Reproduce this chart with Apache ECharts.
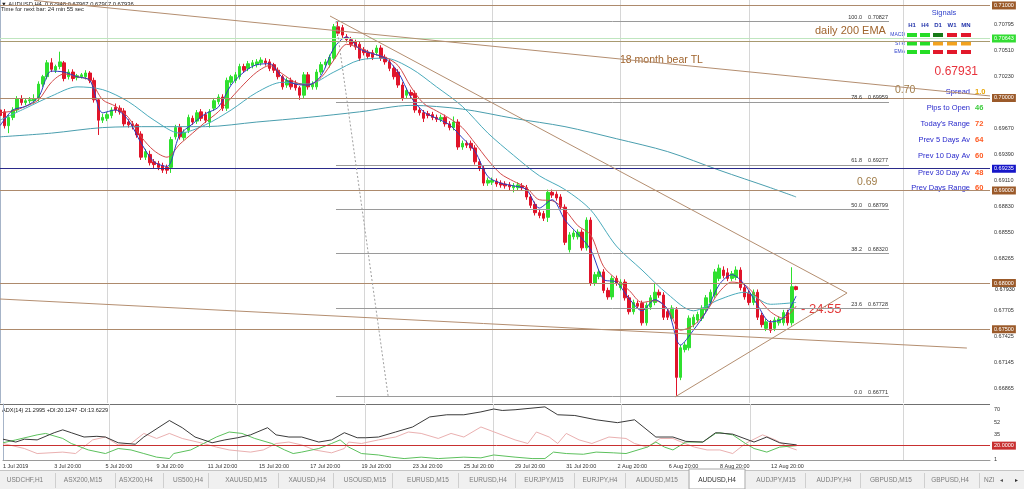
<!DOCTYPE html>
<html><head><meta charset="utf-8">
<script src="https://cdn.jsdelivr.net/npm/echarts@6/dist/echarts.min.js"></script>
<style>html,body{margin:0;padding:0;background:#fff;overflow:hidden}#c{width:1024px;height:489px}</style>
</head><body><div id="c"></div>
<script>
// ---------- DATA ----------
// AUDUSD H4 candles, one per bar starting 1 Jul 2019 20:00 : [open, close, low, high]
const candles = [
[.6987,.6981,.6978,.6990],[.6985,.6970,.6967,.6988],[.6970,.6979,.6962,.6982],[.6979,.6987,.6976,.6990],[.6987,.6999,.6984,.7002],
[.6999,.6995,.6992,.7003],[.6995,.6997,.6992,.6999],[.6997,.6998,.6994,.7001],[.6997,.6999,.6994,.7004],[.6999,.7015,.6996,.7018],
[.7015,.7023,.7012,.7025],[.7023,.7038,.7020,.7041],[.7038,.7031,.7028,.7043],[.7030,.7034,.7027,.7036],[.7034,.7039,.7031,.7050],
[.7038,.7021,.7018,.7040],[.7023,.7028,.7020,.7031],[.7028,.7021,.7018,.7031],[.7022,.7024,.7019,.7026],[.7023,.7025,.7021,.7027],
[.7023,.7027,.7020,.7030],[.7027,.7019,.7016,.7029],[.7019,.6998,.6995,.7022],[.6998,.6976,.6960,.7000],[.6976,.6979,.6973,.6983],
[.6978,.6982,.6975,.6985],[.6981,.6987,.6978,.6990],[.6990,.6987,.6984,.6994],[.6989,.6985,.6982,.6992],[.6986,.6972,.6969,.6989],
[.6974,.6971,.6968,.6977],[.6972,.6970,.6966,.6975],[.6971,.6960,.6957,.6973],[.6961,.6936,.6933,.6964],[.6936,.6942,.6933,.6945],
[.6939,.6930,.6927,.6943],[.6931,.6928,.6924,.6934],[.6929,.6925,.6922,.6932],[.6927,.6922,.6919,.6930],[.6925,.6922,.6918,.6928],
[.6925,.6955,.6919,.6958],[.6958,.6968,.6955,.6971],[.6968,.6958,.6955,.6972],[.6957,.6963,.6954,.6966],[.6965,.6979,.6962,.6982],
[.6978,.6974,.6971,.6981],[.6975,.6984,.6972,.6987],[.6985,.6978,.6975,.6988],[.6982,.6976,.6973,.6985],[.6974,.6985,.6968,.6988],
[.6989,.6997,.6986,.7000],[.6996,.7001,.6993,.7004],[.7001,.6989,.6986,.7004],[.6989,.7019,.6986,.7022],[.7017,.7023,.7014,.7025],
[.7019,.7025,.7016,.7028],[.7023,.7034,.7020,.7037],[.7034,.7030,.7027,.7037],[.7032,.7037,.7029,.7040],[.7035,.7038,.7032,.7041],
[.7036,.7039,.7033,.7042],[.7038,.7041,.7035,.7044],[.7040,.7038,.7035,.7043],[.7039,.7032,.7029,.7042],[.7036,.7030,.7027,.7038],
[.7030,.7023,.7020,.7033],[.7023,.7012,.7009,.7025],[.7014,.7019,.7011,.7022],[.7019,.7012,.7009,.7022],[.7016,.7011,.7008,.7019],
[.7011,.7003,.6998,.7013],[.7003,.7025,.7000,.7028],[.7025,.7012,.7009,.7028],[.7012,.7015,.7009,.7018],[.7012,.7028,.7009,.7031],
[.7028,.7036,.7025,.7039],[.7036,.7039,.7033,.7042],[.7036,.7044,.7033,.7047],[.7043,.7077,.7040,.7080],[.7077,.7070,.7067,.7083],
[.7076,.7068,.7065,.7079],[.7066,.7063,.7060,.7069],[.7063,.7058,.7055,.7066],[.7061,.7055,.7052,.7063],[.7058,.7043,.7040,.7061],
[.7052,.7049,.7046,.7055],[.7049,.7045,.7042,.7052],[.7049,.7044,.7041,.7052],[.7049,.7054,.7046,.7057],[.7054,.7043,.7040,.7057],
[.7044,.7039,.7036,.7047],[.7039,.7032,.7029,.7042],[.7032,.7023,.7020,.7035],[.7028,.7014,.7011,.7031],[.7014,.7000,.6997,.7017],
[.7003,.7008,.7000,.7011],[.7006,.7003,.7000,.7009],[.7005,.6987,.6984,.7008],[.6987,.6984,.6981,.6990],[.6984,.6978,.6974,.6987],
[.6983,.6981,.6978,.6986],[.6982,.6979,.6976,.6985],[.6979,.6977,.6974,.6982],[.6977,.6979,.6974,.6982],[.6979,.6972,.6969,.6982],
[.6972,.6968,.6965,.6975],[.6968,.6974,.6965,.6980],[.6974,.6947,.6944,.6977],[.6947,.6951,.6944,.6954],[.6951,.6949,.6946,.6954],
[.6951,.6946,.6943,.6954],[.6946,.6931,.6928,.6949],[.6931,.6924,.6921,.6934],[.6924,.6908,.6905,.6927],[.6908,.6911,.6905,.6914],
[.6909,.6911,.6906,.6914],[.6910,.6907,.6904,.6913],[.6908,.6906,.6903,.6911],[.6907,.6905,.6902,.6910],[.6906,.6904,.6900,.6909],
[.6903,.6905,.6898,.6908],[.6903,.6906,.6900,.6909],[.6905,.6903,.6900,.6908],[.6903,.6893,.6890,.6906],[.6893,.6884,.6881,.6896],
[.6885,.6876,.6873,.6888],[.6876,.6873,.6870,.6879],[.6875,.6870,.6867,.6878],[.6871,.6898,.6866,.6901],[.6898,.6895,.6892,.6901],
[.6896,.6892,.6889,.6899],[.6893,.6882,.6879,.6896],[.6882,.6844,.6841,.6885],[.6836,.6852,.6833,.6855],[.6850,.6854,.6847,.6857],
[.6850,.6855,.6847,.6858],[.6855,.6838,.6835,.6858],[.6838,.6868,.6835,.6871],[.6868,.6800,.6797,.6871],[.6800,.6809,.6797,.6812],
[.6807,.6812,.6804,.6815],[.6812,.6792,.6789,.6815],[.6792,.6785,.6782,.6795],[.6785,.6805,.6782,.6808],[.6805,.6800,.6797,.6808],
[.6795,.6801,.6792,.6804],[.6801,.6784,.6781,.6804],[.6784,.6769,.6766,.6787],[.6769,.6779,.6766,.6782],[.6778,.6775,.6772,.6781],
[.6778,.6757,.6754,.6781],[.6757,.6776,.6754,.6779],[.6774,.6784,.6771,.6787],[.6779,.6790,.6776,.6800],[.6790,.6787,.6784,.6793],
[.6787,.6763,.6760,.6790],[.6769,.6763,.6760,.6772],[.6762,.6773,.6759,.6776],[.6771,.6698,.6678,.6774],[.6698,.6730,.6695,.6733],
[.6728,.6733,.6725,.6736],[.6730,.6762,.6727,.6765],[.6755,.6763,.6752,.6766],[.6760,.6766,.6757,.6769],[.6762,.6773,.6759,.6776],
[.6771,.6784,.6768,.6787],[.6779,.6790,.6776,.6793],[.6787,.6812,.6784,.6815],[.6805,.6816,.6802,.6820],[.6814,.6808,.6805,.6818],
[.6811,.6805,.6802,.6816],[.6805,.6810,.6802,.6813],[.6806,.6814,.6803,.6818],[.6814,.6795,.6792,.6817],[.6795,.6785,.6782,.6798],
[.6789,.6779,.6776,.6792],[.6779,.6790,.6776,.6793],[.6790,.6763,.6760,.6793],[.6765,.6755,.6752,.6768],[.6751,.6758,.6748,.6761],
[.6757,.6749,.6746,.6760],[.6751,.6760,.6748,.6763],[.6757,.6761,.6754,.6764],[.6757,.6768,.6754,.6771],[.6768,.6757,.6754,.6771],
[.6757,.6796,.6754,.6817],[.6796,.6793,.6792,.6797]
];
// Moving averages (fast ones every 3 bars, medium every 6 bars)
const FAST_STEP = 3, MID_STEP = 6;
const blueMA = [.6970,.6987,.6991,.7001,.7029,.7028,.7023,.7019,.6984,.6987,.6976,.6951,.6931,.6926,.6960,.6972,.6983,.6990,.7014,.7028,.7036,.7037,.7022,.7015,.7014,.7024,.7054,.7066,.7053,.7048,.7043,.7028,.7001,.6985,.6978,.6971,.6957,.6942,.6915,.6908,.6905,.6901,.6881,.6890,.6868,.6853,.6836,.6804,.6801,.6783,.6770,.6782,.6771,.6733,.6749,.6769,.6798,.6809,.6798,.6776,.6758,.6762,.6786];
const redMA = [.6984,.6986,.6991,.6998,.7017,.7026,.7023,.7019,.6998,.6991,.6979,.6958,.6943,.6936,.6950,.6962,.6974,.6985,.7000,.7015,.7028,.7035,.7026,.7017,.7014,.7022,.7041,.7058,.7054,.7048,.7044,.7035,.7012,.6994,.6986,.6978,.6968,.6951,.6933,.6918,.6910,.6903,.6890,.6889,.6879,.6862,.6852,.6818,.6804,.6792,.6779,.6781,.6772,.6749,.6754,.6769,.6790,.6801,.6798,.6784,.6769,.6762,.6775];
const tealMA = [.6976,.6989,.7002,.7012,.7009,.6996,.6976,.6962,.6971,.6987,.7006,.7017,.7015,.7028,.7041,.7043,.7032,.7012,.6991,.6962,.6938,.6916,.6901,.6879,.6840,.6814,.6788,.6770,.6782,.6790,.6777,.6779];
const slowMA = [[0,.6958],[12,.6962],[24,.6968],[36,.6969],[48,.6969],[60,.6974],[72,.6979],[84,.6985],[96,.6992],[108,.6988],[120,.6978],[132,.6969],[144,.6956],[156,.6942],[168,.6922],[180,.6903],[186,.6893]];
// ADX(14) pane: [bar, value]
const adxLine = [[0,29],[3,25],[5,29],[8,28],[12,38],[14,42],[16,38],[19,32],[22,33],[24,32],[27,24],[31,22],[33,32],[39,55],[42,45],[45,32],[49,24],[52,28],[55,31],[58,35],[62,45],[64,35],[67,32],[70,32],[74,25],[77,28],[80,38],[83,31],[85,31],[88,32],[92,39],[96,46],[100,60],[104,63],[108,63],[112,67],[115,71],[117,69],[120,70],[127,74],[130,63],[134,62],[139,56],[144,52],[148,56],[153,32],[157,32],[160,26],[164,25],[167,38],[171,36],[176,25],[179,32],[182,24],[186,21]];
const plusDI = [[0,24],[3,28],[8,35],[10,37],[14,30],[16,23],[20,14],[24,9],[27,16],[30,14],[33,9],[36,4],[39,2],[40,9],[44,14],[47,23],[50,32],[53,39],[56,37],[59,30],[63,23],[66,14],[68,9],[70,11],[74,16],[77,23],[79,28],[81,18],[84,9],[88,7],[91,4],[94,2],[98,4],[102,2],[108,4],[112,3],[115,7],[120,4],[124,2],[127,2],[129,11],[132,9],[136,8],[139,11],[143,10],[146,9],[151,18],[153,25],[155,18],[157,14],[160,25],[164,25],[167,37],[168,38],[171,35],[174,23],[176,16],[179,11],[182,18],[186,20]];
const minusDI = [[0,23],[5,16],[8,9],[11,10],[14,11],[17,9],[21,28],[24,32],[27,21],[30,23],[33,37],[36,30],[39,37],[42,30],[47,23],[50,18],[53,14],[58,11],[61,14],[64,23],[67,25],[70,21],[73,14],[77,10],[80,16],[81,25],[84,23],[88,28],[92,32],[95,39],[98,37],[102,30],[105,37],[108,32],[112,46],[116,37],[120,28],[123,23],[125,39],[128,32],[130,23],[132,37],[135,28],[138,23],[142,32],[146,30],[148,23],[151,18],[154,30],[157,30],[159,25],[162,18],[165,14],[168,14],[171,9],[174,23],[178,35],[181,28],[184,18],[186,14]];
const adxLevel = 20;
const adxTicks = [70, 52, 35, 18, 1];
// axis ticks
const dateTickBars = [0,12,24,36,48,60,72,84,96,108,120,132,144,156,168,180];
const dateLabels = ["1 Jul 2019","3 Jul 20:00","5 Jul 20:00","9 Jul 20:00","11 Jul 20:00","15 Jul 20:00","17 Jul 20:00","19 Jul 20:00","23 Jul 20:00","25 Jul 20:00","29 Jul 20:00","31 Jul 20:00","2 Aug 20:00","6 Aug 20:00","8 Aug 20:00","12 Aug 20:00"];
const weekGridBars = [25, 55, 85, 115, 145, 175, 211];
const priceTicks = [0.70795,0.70510,0.70230,0.69670,0.69390,0.69110,0.68830,0.68550,0.68265,0.67705,0.67425,0.67145,0.66865];
// drawn objects
const roundLevels = [0.71000, 0.70000, 0.69000, 0.68000, 0.67500];
const dailyEma200 = 0.70612;
const greenLevel = 0.70643;
const blueLevel = 0.69235;
const fibLevels = [["100.0",0.70827],["78.6",0.69959],["61.8",0.69277],["50.0",0.68799],["38.2",0.68320],["23.6",0.67728],["0.0",0.66771]];
const fibSpan = [78.5, 207.7];
const fibDiagonal = [[78.5,0.70827],[90.7,0.66771]];
const bearTL18m = [[8,0.71054],[231.3,0.70022]];
const triUpper = [[77.1,0.70886],[197.9,0.67892]];
const triLower = [[157.7,0.66768],[197.9,0.67892]];
const longLower = [[0,0.67827],[225.9,0.67297]];
const bidPrice = 0.67931;
const headerLine = "\u25BC AUDUSD,H4  0.67948 0.67967 0.67907 0.67936";
const timerLine = "Time for next bar: 24 min 55 sec";
const adxTitle = "ADX(14) 21.2995 +DI:20.1247 -DI:13.6229";
const countdown = "- 24:55";
const sigCols = ["H1","H4","D1","W1","MN"];
const sigRows = ["MACD","STR","EMA"];
const sigStates = [["up","up","upDark","down","down"],["up","up","flat","flat","flat"],["up","up","down","down","down"]];
const stats = [["Spread","1.0"],["Pips to Open","46"],["Today's Range","72"],["Prev 5 Days Av","64"],["Prev 10 Day Av","60"],["Prev 30 Day Av","48"],["Prev Days Range","60"]];
const tabs = ["USDCHF,H1","ASX200,M15","ASX200,H4","US500,H4","XAUUSD,M15","XAUUSD,H4","USOUSD,M15","EURUSD,M15","EURUSD,H4","EURJPY,M15","EURJPY,H4","AUDUSD,M15","AUDUSD,H4","AUDJPY,M15","AUDJPY,H4","GBPUSD,M15","GBPUSD,H4"];
const activeTab = "AUDUSD,H4";

// ---------- LAYOUT / STYLE ----------
const FONT = '"Liberation Sans", Arial, sans-serif';
const X_MIN = 0, X_MAX = 231.3;
const BROWN = '#ad8a6c', BOX = '#9b5a2a', TLC = '#b48e70';
const tabCenters = [25,83,136,188,246,307,365,428,488,544,600,657,717,776,834,891,950];
const tabSeps = [55,115,163,208,278,333,392,458,515,574,625,689,745,805,860,924,979];
const sigColX = [907,920,933,947,961];
const sigColor = {up:'#26dd26', upDark:'#167a16', down:'#e2182a', flat:'#f2a21e'};
const statY = [92,108,124,140,156,173,188];
const statColor = ['#e8a400','#3ccc3c','#ff5a22','#ff5a22','#ff5a22','#ff5a22','#ff5a22'];

const dateLabelOf = {};
dateTickBars.forEach((b, k) => { dateLabelOf[b] = dateLabels[k]; });

function boxLabel(text, bg) {
  return {show:true, position:'end', distance:2, formatter:text, color:'#fff', backgroundColor:bg,
    fontSize:5.5, fontFamily:FONT, padding:[1,2,1,2]};
}
const objLines = [];
roundLevels.forEach(p => objLines.push({yAxis:p, lineStyle:{color:BROWN, width:1, type:'solid'}, label:boxLabel(p.toFixed(5), BOX)}));
objLines.push({yAxis:dailyEma200, lineStyle:{color:'#a89a70', width:1, type:'solid'}, label:{show:false}});
objLines.push({yAxis:greenLevel, lineStyle:{color:'#bfe6bf', width:1, type:'solid'}, label:boxLabel(greenLevel.toFixed(5), '#33dd33')});
objLines.push({yAxis:blueLevel, lineStyle:{color:'#2a2a8a', width:1, type:'solid'}, label:boxLabel(blueLevel.toFixed(5), '#1616c8')});
fibLevels.forEach(([lvl, p]) => objLines.push([
  {coord:[fibSpan[0], p], lineStyle:{color:'#9a9a9a', width:1, type:'solid'},
   label:{show:true, position:'insideEndTop', distance:1, formatter:lvl + '    ' + p.toFixed(5), color:'#333', fontSize:5.5, fontFamily:FONT}},
  {coord:[fibSpan[1], p]}]));
function seg(pts, color, type) {
  return [{coord:pts[0], lineStyle:{color:color, width:1, type:type||'solid'}, label:{show:false}}, {coord:pts[1]}];
}
objLines.push(seg(fibDiagonal, '#a0a0a0', [2,2]));
objLines.push(seg(bearTL18m, TLC));
objLines.push(seg(triUpper, TLC));
objLines.push(seg(triLower, TLC));
objLines.push(seg(longLower, TLC));

const g = [];
function txt(x, y, text, size, fill, align, weight) {
  g.push({type:'text', x:x, y:y, z:0, silent:true, style:{text:text, fontSize:size, fontFamily:FONT, fontWeight:weight||'normal', fill:fill, align:align||'left', verticalAlign:'middle'}});
}
// header
txt(1, 4, headerLine, 5.8, '#222');
txt(1, 9, timerLine, 5.8, '#222');
// annotations
txt(815, 31, 'daily 200 EMA', 11, '#a0642d');
txt(620, 60, '18 month bear TL', 10.5, '#a0642d');
txt(895, 90, '0.70', 10.5, '#a07c48');
txt(857, 182, '0.69', 10.5, '#a07c48');
txt(801, 309, countdown, 13, '#e23a3a');
txt(995, 289, '0.67930', 5.5, '#111');
// signals panel
txt(944, 13, 'Signals', 7.5, '#3344cc', 'center');
sigCols.forEach((c, k) => txt(sigColX[k] + 5, 25, c, 6, '#2233aa', 'center', 'bold'));
sigRows.forEach((r, j) => {
  const y = 35 + j * 8.5;
  txt(905, y, r, 5, '#3344cc', 'right');
  sigStates[j].forEach((s, k) => g.push({type:'rect', z:0, silent:true, shape:{x:sigColX[k], y:y - 2, width:10, height:4}, style:{fill:sigColor[s]}}));
});
txt(978, 72, bidPrice.toFixed(5), 12, '#e8323c', 'right');
stats.forEach(([lab, val], k) => { txt(970, statY[k], lab, 7.5, '#2a2acc', 'right'); txt(975, statY[k], val, 7.5, statColor[k], 'left', 'bold'); });
// ADX pane title + separator
g.push({type:'line', z:0, silent:true, shape:{x1:0, y1:404.5, x2:990, y2:404.5}, style:{stroke:'#707070', lineWidth:1}});
txt(2, 410, adxTitle, 5.6, '#222');
// tab bar
g.push({type:'rect', z:0, silent:true, shape:{x:0, y:470, width:1024, height:19}, style:{fill:'#f0f0f0'}});
g.push({type:'line', z:0, silent:true, shape:{x1:0, y1:470.5, x2:1024, y2:470.5}, style:{stroke:'#c4c4c4', lineWidth:1}});
g.push({type:'rect', z:0, silent:true, shape:{x:689, y:469, width:56, height:20}, style:{fill:'#ffffff', stroke:'#a8a8a8', lineWidth:1}});
tabSeps.forEach(x => g.push({type:'line', z:0, silent:true, shape:{x1:x + .5, y1:473, x2:x + .5, y2:488}, style:{stroke:'#cfcfcf', lineWidth:1}}));
tabs.forEach((t, k) => txt(tabCenters[k], 480, t, 6.5, t === activeTab ? '#303030' : '#7c7c7c', 'center'));
txt(984, 480, 'NZI', 6.5, '#7c7c7c');
txt(1000, 480, '\u25C2', 6, '#555');
txt(1015, 480, '\u25B8', 6, '#333');

const option = {
  animation: false,
  backgroundColor: '#ffffff',
  textStyle: {fontFamily: FONT},
  grid: [
    {left:0, right:34, top:0, height:403},
    {left:0, right:34, top:404, height:56}
  ],
  xAxis: [
    {type:'value', gridIndex:0, min:X_MIN, max:X_MAX, show:false},
    {type:'value', gridIndex:1, min:X_MIN, max:X_MAX,
     axisLine:{show:true, lineStyle:{color:'#9a9a9a'}}, axisTick:{show:false}, splitLine:{show:false},
     axisLabel:{customValues:dateTickBars, formatter:v => dateLabelOf[v] || '', align:'left', fontSize:5.5, color:'#333', margin:3}}
  ],
  yAxis: [
    {type:'value', gridIndex:0, position:'right', min:0.66703, max:0.71059, scale:true,
     axisLine:{show:true, lineStyle:{color:'#a6b4c8'}}, axisTick:{show:false}, splitLine:{show:false},
     axisLabel:{customValues:priceTicks, formatter:v => v.toFixed(5), fontSize:5.5, color:'#333', margin:4}},
    {type:'value', gridIndex:1, position:'right', min:0, max:78,
     axisLine:{show:true, lineStyle:{color:'#a6b4c8'}}, axisTick:{show:false}, splitLine:{show:false},
     axisLabel:{customValues:adxTicks, formatter:v => String(v), fontSize:5.5, color:'#333', margin:4}}
  ],
  series: [
    {type:'line', xAxisIndex:0, yAxisIndex:0, data:[], z:1,
     markLine:{silent:true, symbol:'none', z:1, precision:6, label:{show:false}, lineStyle:{color:'#d6d6d6', width:1, type:'solid'},
       data:weekGridBars.map(b => ({xAxis:b}))}},
    {type:'line', xAxisIndex:1, yAxisIndex:1, data:[], z:1,
     markLine:{silent:true, symbol:'none', z:1, precision:6, label:{show:false}, lineStyle:{color:'#d6d6d6', width:1, type:'solid'},
       data:weekGridBars.map(b => ({xAxis:b}))}},
    {type:'candlestick', xAxisIndex:0, yAxisIndex:0, z:2, barWidth:3,
     data:candles.map((c, i) => [i, c[0], c[1], c[2], c[3]]),
     itemStyle:{color:'#2fe02f', color0:'#e0142a', borderColor:'#2fe02f', borderColor0:'#e0142a', borderWidth:1},
     markLine:{silent:true, symbol:'none', z:5, precision:6, data:objLines}},
    {type:'line', xAxisIndex:0, yAxisIndex:0, z:3, showSymbol:false, smooth:0.3,
     data:slowMA, lineStyle:{color:'#4a9eae', width:1}},
    {type:'line', xAxisIndex:0, yAxisIndex:0, z:3, showSymbol:false, smooth:0.3,
     data:tealMA.map((v, k) => [k * MID_STEP, v]), lineStyle:{color:'#4aaabb', width:1}},
    {type:'line', xAxisIndex:0, yAxisIndex:0, z:3, showSymbol:false, smooth:0.3,
     data:redMA.map((v, k) => [k * FAST_STEP, v]), lineStyle:{color:'#d24a4a', width:1}},
    {type:'line', xAxisIndex:0, yAxisIndex:0, z:3, showSymbol:false, smooth:0.3,
     data:blueMA.map((v, k) => [k * FAST_STEP, v]), lineStyle:{color:'#2a3cc0', width:1}},
    {type:'line', xAxisIndex:1, yAxisIndex:1, z:3, showSymbol:false,
     data:minusDI, lineStyle:{color:'#eab0b0', width:1}},
    {type:'line', xAxisIndex:1, yAxisIndex:1, z:3, showSymbol:false,
     data:plusDI, lineStyle:{color:'#5cc05c', width:1}},
    {type:'line', xAxisIndex:1, yAxisIndex:1, z:4, showSymbol:false,
     data:adxLine, lineStyle:{color:'#3a3a3a', width:1},
     markLine:{silent:true, symbol:'none', z:5, precision:6,
       data:[{yAxis:adxLevel, lineStyle:{color:'#c83030', width:1, type:'solid'}, label:boxLabel(adxLevel.toFixed(4), '#c83030')}]}}
  ],
  graphic: g
};
const chart = echarts.init(document.getElementById('c'), null, {renderer:'canvas'});
chart.setOption(option);
</script>
</body></html>
